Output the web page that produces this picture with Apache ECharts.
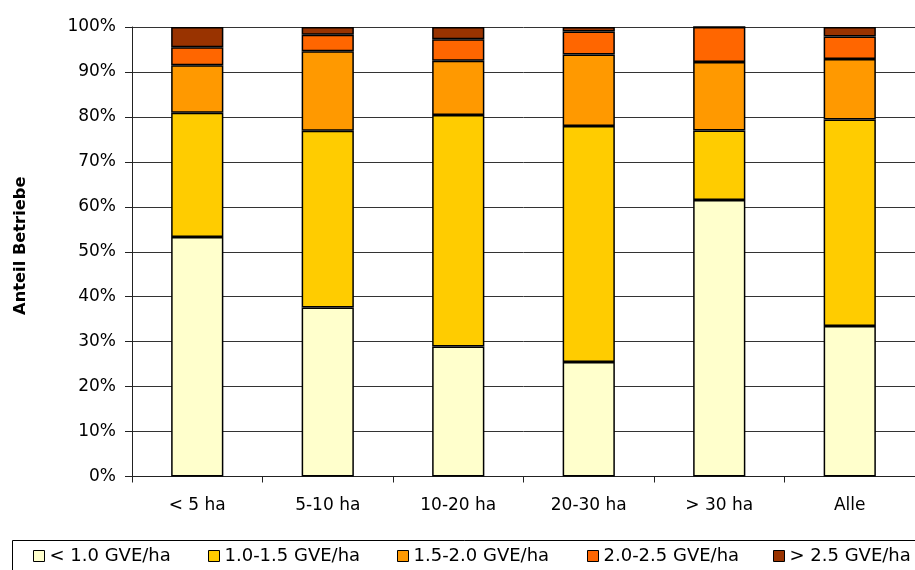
<!DOCTYPE html>
<html>
<head>
<meta charset="utf-8">
<script src="https://cdn.jsdelivr.net/npm/echarts@6/dist/echarts.min.js"></script>
<style>html,body{margin:0;padding:0;background:#fff}#c{width:915px;height:570px}</style>
</head>
<body>
<div id="c"></div>
<script>
const categories = ['< 5 ha', '5-10 ha', '10-20 ha', '20-30 ha', '> 30 ha', 'Alle'];
const seriesNames = ['< 1.0 GVE/ha', '1.0-1.5 GVE/ha', '1.5-2.0 GVE/ha', '2.0-2.5 GVE/ha', '> 2.5 GVE/ha'];
const below10 = [53.3, 37.6, 28.9, 25.5, 61.5, 33.5];
const from10to15 = [27.6, 39.3, 51.5, 52.5, 15.5, 45.9];
const from15to20 = [10.6, 17.7, 12.1, 15.9, 15.2, 13.5];
const from20to25 = [4.0, 3.7, 4.8, 5.1, 7.8, 5.0];
const above25 = [4.5, 1.7, 2.7, 1.0, 0, 2.1];
const yTicks = [0, 10, 20, 30, 40, 50, 60, 70, 80, 90, 100];
const colors = ['#FFFFCC', '#FFCC00', '#FF9900', '#FF6600', '#993300'];
const values = [below10, from10to15, from15to20, from20to25, above25];

const font = 'DejaVu Sans';
const chart = echarts.init(document.getElementById('c'), null, {renderer: 'canvas'});
const legendLefts = [33, 208, 397, 587, 773];

chart.setOption({
  animation: false,
  color: colors,
  grid: {left: 132, right: -1, top: 27, bottom: 93.5, containLabel: false},
  xAxis: {
    type: 'category',
    data: categories,
    axisLine: {lineStyle: {color: '#222', width: 1}},
    axisTick: {show: true, length: 6, lineStyle: {color: '#222'}},
    axisLabel: {color: '#000', fontFamily: font, fontSize: 17, margin: 21}
  },
  yAxis: {
    type: 'value',
    min: yTicks[0],
    max: yTicks[yTicks.length - 1],
    interval: yTicks[1] - yTicks[0],
    name: 'Anteil Betriebe',
    nameLocation: 'middle',
    nameGap: 103,
    nameTextStyle: {color: '#000', fontFamily: font, fontSize: 16.3, fontWeight: 'bold', padding: [0, 0, 0, 12]},
    axisLine: {show: true, lineStyle: {color: '#222', width: 1}},
    axisTick: {show: true, length: 7, lineStyle: {color: '#222'}},
    axisLabel: {color: '#000', fontFamily: font, fontSize: 17, margin: 16, formatter: '{value}%'},
    splitLine: {show: true, lineStyle: {color: '#333', width: 1}}
  },
  legend: seriesNames.map((n, i) => ({
    data: [n],
    left: legendLefts[i],
    top: 547,
    padding: 0,
    icon: 'rect',
    itemWidth: 11,
    itemHeight: 11,
    textStyle: {color: '#000', fontFamily: font, fontSize: 18},
    itemStyle: {borderColor: '#000', borderWidth: 1}
  })),
  graphic: [{
    type: 'rect',
    shape: {x: 12.5, y: 540.5, width: 920, height: 40},
    style: {fill: 'none', stroke: '#000', lineWidth: 1},
    silent: true
  }],
  series: seriesNames.map((n, i) => ({
    name: n,
    type: 'bar',
    stack: 'total',
    barWidth: '40%',
    data: values[i],
    itemStyle: {color: colors[i], borderColor: '#000', borderWidth: 1.5}
  }))
});
</script>
</body>
</html>
